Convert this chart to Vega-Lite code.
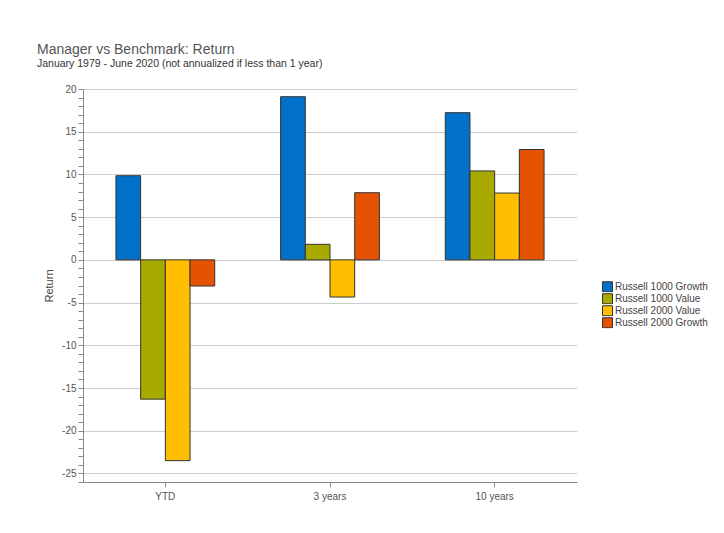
{
  "$schema": "https://vega.github.io/schema/vega-lite/v6.json",
  "autosize": "none",
  "width": 494,
  "height": 393,
  "padding": {"left": 83, "top": 89, "right": 147, "bottom": 51},
  "background": "white",
  "title": {
    "text": "Manager vs Benchmark: Return",
    "subtitle": "January 1979 - June 2020 (not annualized if less than 1 year)",
    "anchor": "start",
    "frame": "group",
    "dx": -46,
    "offset": 15,
    "font": "Liberation Sans",
    "fontSize": 14,
    "fontWeight": "normal",
    "color": "#555555",
    "subtitleFont": "Liberation Sans",
    "subtitleFontSize": 10.5,
    "subtitleColor": "#333333",
    "subtitlePadding": 2
  },
  "data": {
    "values": [
      {"period": "YTD", "index": "Russell 1000 Growth", "value": 9.85},
      {"period": "YTD", "index": "Russell 1000 Value", "value": -16.3},
      {"period": "YTD", "index": "Russell 2000 Value", "value": -23.5},
      {"period": "YTD", "index": "Russell 2000 Growth", "value": -3.06},
      {"period": "3 years", "index": "Russell 1000 Growth", "value": 19.1},
      {"period": "3 years", "index": "Russell 1000 Value", "value": 1.82},
      {"period": "3 years", "index": "Russell 2000 Value", "value": -4.35},
      {"period": "3 years", "index": "Russell 2000 Growth", "value": 7.86},
      {"period": "10 years", "index": "Russell 1000 Growth", "value": 17.23},
      {"period": "10 years", "index": "Russell 1000 Value", "value": 10.41},
      {"period": "10 years", "index": "Russell 2000 Value", "value": 7.82},
      {"period": "10 years", "index": "Russell 2000 Growth", "value": 12.92}
    ]
  },
  "mark": {"type": "bar", "stroke": "#333333", "strokeWidth": 1},
  "encoding": {
    "x": {
      "field": "period",
      "type": "nominal",
      "sort": ["YTD", "3 years", "10 years"],
      "scale": {"paddingInner": 0.4, "paddingOuter": 0.2},
      "axis": {
        "title": null,
        "labelAngle": 0,
        "labelFont": "Liberation Sans",
        "labelFontSize": 10,
        "labelColor": "#555555",
        "labelPadding": 4,
        "domainColor": "#888888",
        "tickColor": "#888888",
        "tickSize": 5,
        "grid": false
      }
    },
    "xOffset": {
      "field": "index",
      "type": "nominal",
      "sort": ["Russell 1000 Growth", "Russell 1000 Value", "Russell 2000 Value", "Russell 2000 Growth"]
    },
    "y": {
      "field": "value",
      "type": "quantitative",
      "scale": {"domain": [-26, 20], "nice": false, "zero": false},
      "axis": {
        "title": "Return",
        "titleFont": "Liberation Sans",
        "titleFontSize": 11,
        "titleFontWeight": "normal",
        "titleColor": "#444444",
        "titlePadding": 7,
        "values": [-26,-25,-24,-23,-22,-21,-20,-19,-18,-17,-16,-15,-14,-13,-12,-11,-10,-9,-8,-7,-6,-5,-4,-3,-2,-1,0,1,2,3,4,5,6,7,8,9,10,11,12,13,14,15,16,17,18,19,20],
        "labelExpr": "datum.value % 5 === 0 ? toString(datum.value) : ''",
        "labelOverlap": false,
        "labelFont": "Liberation Sans",
        "labelFontSize": 10,
        "labelColor": "#555555",
        "labelPadding": 2,
        "domainColor": "#888888",
        "tickColor": "#888888",
        "tickSize": 5,
        "grid": true,
        "gridColor": "#cccccc",
        "gridOpacity": {"condition": {"test": "datum.value % 5 === 0", "value": 1}, "value": 0}
      }
    },
    "color": {
      "field": "index",
      "type": "nominal",
      "sort": ["Russell 1000 Growth", "Russell 1000 Value", "Russell 2000 Value", "Russell 2000 Growth"],
      "scale": {
        "domain": ["Russell 1000 Growth", "Russell 1000 Value", "Russell 2000 Value", "Russell 2000 Growth"],
        "range": ["#0070c8", "#a8aa00", "#ffbf00", "#e55300"]
      },
      "legend": {
        "title": null,
        "orient": "none",
        "legendX": 519,
        "legendY": 192,
        "symbolType": "square",
        "symbolSize": 100,
        "symbolStrokeColor": "#333333",
        "symbolStrokeWidth": 1,
        "labelFont": "Liberation Sans",
        "labelFontSize": 10,
        "labelColor": "#444444",
        "labelOffset": 2,
        "rowPadding": 0,
        "clipHeight": 11.5
      }
    }
  },
  "config": {
    "view": {"stroke": null}
  }
}
